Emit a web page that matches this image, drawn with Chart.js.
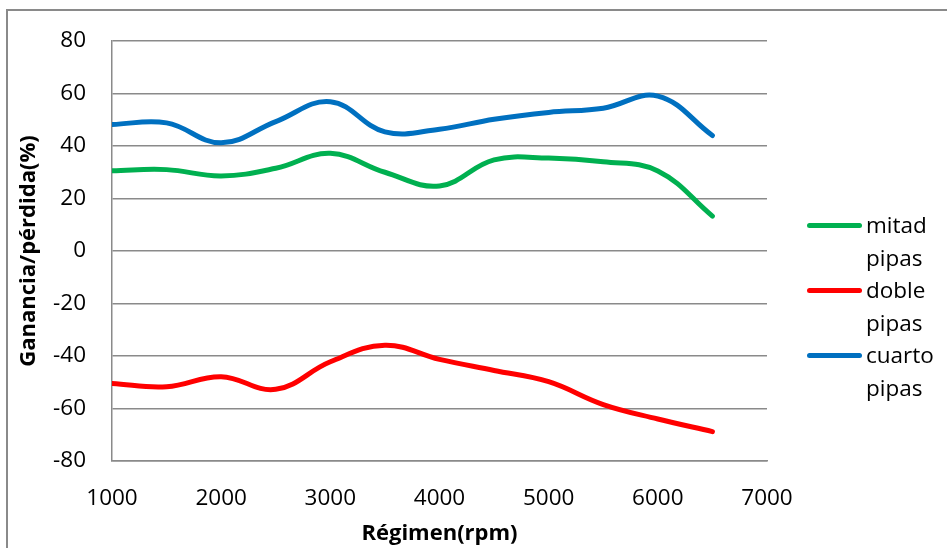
<!DOCTYPE html>
<html>
<head>
<meta charset="utf-8">
<script src="https://cdn.jsdelivr.net/npm/chart.js@4.4.0/dist/chart.umd.min.js"></script>
<style>
  html, body { margin: 0; padding: 0; background: #fff; }
  #wrap { position: relative; width: 947px; height: 548px; overflow: hidden; }
  #frame { position: absolute; left: 6px; top: 9px; width: 960px; height: 560px; border: 2px solid #8a8a8a; box-sizing: border-box; }
  canvas { position: absolute; left: 0; top: 0; }
  #legend { position: absolute; left: 807px; top: 209px; font-family: "Open Sans", sans-serif; font-size: 22.5px; line-height: 32.6px; color: #000; }
  .item { position: relative; padding-left: 59px; width: 80px; }
  .swatch { position: absolute; left: 0; top: 14px; width: 55px; height: 5px; border-radius: 3px; }
</style>
</head>
<body>
<div id="wrap">
  <div id="frame"></div>
  <canvas id="c" width="947" height="548"></canvas>
  <div id="legend"></div>
</div>
<script>
const rpm = [1000, 1500, 2000, 2500, 3000, 3500, 4000, 4500, 5000, 5500, 6000, 6500];
const seriesNames = ['mitad pipas', 'doble pipas', 'cuarto pipas'];
const mitad  = [30.6, 31, 28.6, 31.5, 37.2, 30, 24.8, 34.7, 35.4, 34, 30.5, 13.3];
const doble  = [-50.5, -51.7, -47.9, -52.7, -42.2, -35.9, -41.3, -45.5, -49.8, -58.5, -64, -68.8];
const cuarto = [48.2, 48.8, 41.2, 49.3, 56.9, 45.4, 46.4, 50.2, 52.8, 54.4, 59, 44];
const seriesColors = ['#00B050', '#FF0000', '#0070C0'];
const yTitle = 'Ganancia/pérdida(%)';
const xTitle = 'Régimen(rpm)';

const allSeries = [mitad, doble, cuarto];
const FONT = '"Open Sans", sans-serif';

const datasets = allSeries.map((vals, i) => ({
  label: seriesNames[i],
  data: rpm.map((x, j) => ({ x: x, y: vals[j] })),
  borderColor: seriesColors[i],
  backgroundColor: seriesColors[i],
  borderWidth: 5,
  borderCapStyle: 'round',
  pointRadius: 0,
  tension: 0.4,
  fill: false
}));

new Chart(document.getElementById('c'), {
  type: 'line',
  data: { datasets },
  options: {
    responsive: false,
    animation: false,
    layout: { padding: { left: 12, top: 41, right: 180, bottom: 0 } },
    plugins: { legend: { display: false }, tooltip: { enabled: false } },
    scales: {
      x: {
        type: 'linear',
        min: 1000, max: 7000,
        ticks: { stepSize: 1000, color: '#000', font: { family: FONT, size: 22.5 }, padding: 24, maxRotation: 0,
                 callback: (v) => String(v) },
        grid: { display: false, drawTicks: false },
        border: { display: true, color: '#8a8a8a', width: 1.5 },
        title: { display: true, text: xTitle, color: '#000', font: { family: FONT, size: 22, weight: 'bold' }, padding: { top: 0, bottom: 1 } },
        afterFit: (s) => { s.height = 87; }
      },
      y: {
        min: -80, max: 80,
        ticks: { stepSize: 20, color: '#000', font: { family: FONT, size: 22.5 }, padding: 26 },
        grid: { color: '#8a8a8a', lineWidth: 1.5, drawTicks: false },
        border: { display: true, color: '#8a8a8a', width: 1.5 },
        title: { display: true, text: yTitle, color: '#000', font: { family: FONT, size: 22, weight: 'bold' }, padding: { top: 4, bottom: 0 } },
        afterFit: (s) => { s.width = 100; }
      }
    }
  }
});

const leg = document.getElementById('legend');
seriesNames.forEach((name, i) => {
  const d = document.createElement('div');
  d.className = 'item';
  const sw = document.createElement('span');
  sw.className = 'swatch';
  sw.style.background = seriesColors[i];
  d.appendChild(sw);
  d.appendChild(document.createTextNode(name));
  leg.appendChild(d);
});
</script>
</body>
</html>
